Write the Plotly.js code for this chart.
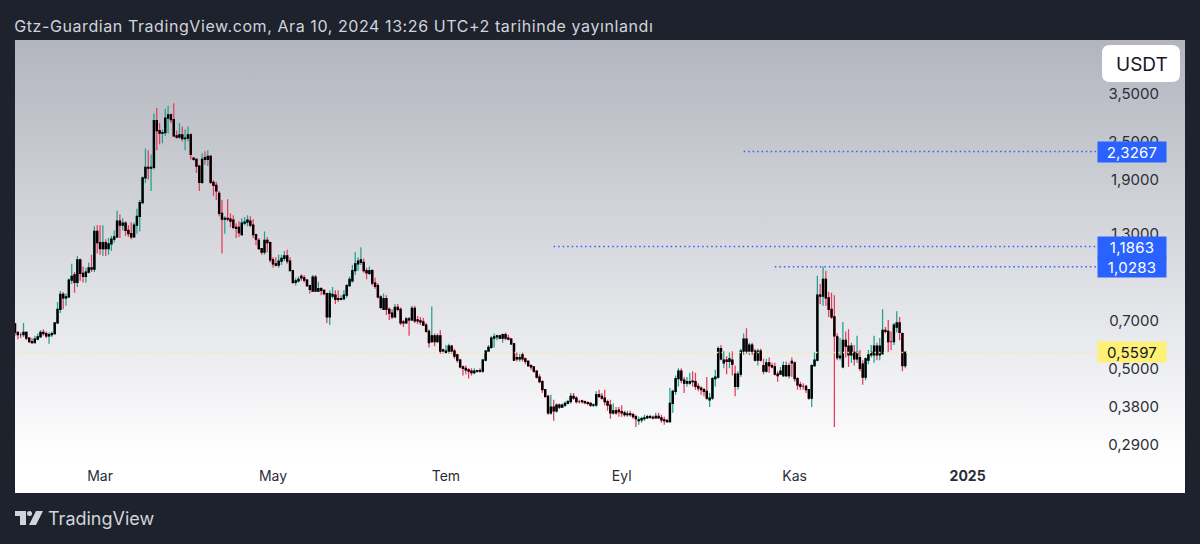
<!DOCTYPE html>
<html><head><meta charset="utf-8">
<script src="https://cdn.plot.ly/plotly-3.0.1.min.js"></script>
<style>
html,body{margin:0;padding:0;background:#1e222d;width:1200px;height:544px;overflow:hidden}
#panel{position:absolute;left:15px;top:40px;width:1170px;height:453px;background:linear-gradient(#b2b5be 0%,#e4e5e9 60%,#ffffff 93%)}
#chart{position:absolute;left:0;top:0;width:1200px;height:544px}
g.annotation[data-index="5"] text{letter-spacing:.58px}
g.annotation[data-index="0"] text,g.annotation[data-index="1"] text,g.annotation[data-index="2"] text,g.annotation[data-index="3"] text{letter-spacing:.2px}
</style></head><body>
<div id="panel"></div><div id="chart"></div>
<script>
const opens = [
.685,.645,.635,.635,.645,.62,.605,.60,.615,.625,
.645,.64,.63,.635,.64,.69,.76,.845,.825,.83,
.935,.97,.92,1.08,.98,.96,.99,1.02,1.01,1.32,
1.22,1.17,1.22,1.17,1.21,1.25,1.27,1.42,1.38,1.40,
1.33,1.30,1.27,1.38,1.47,1.62,1.93,2.08,2.07,2.08,
2.90,2.70,2.65,2.66,2.95,3.02,2.92,2.60,2.58,2.62,
2.55,2.56,2.62,2.22,2.20,2.10,1.87,2.23,2.20,2.25,
1.87,1.83,1.73,1.50,1.44,1.45,1.44,1.43,1.36,1.36,
1.29,1.40,1.41,1.42,1.38,1.29,1.24,1.17,1.14,1.24,
1.22,1.08,1.05,1.04,1.07,1.09,1.11,1.07,1.00,.92,
.93,.96,.95,.935,.90,.865,.955,.865,.88,.87,
.85,.72,.835,.84,.82,.815,.82,.84,.90,.93,
1.00,1.05,1.06,1.06,1.00,.98,1.00,.915,.90,.83,
.76,.82,.76,.74,.72,.77,.76,.695,.69,.71,
.705,.765,.705,.70,.695,.68,.65,.605,.63,.605,
.63,.57,.56,.565,.585,.565,.55,.53,.505,.50,
.495,.49,.485,.49,.492,.49,.53,.565,.58,.62,
.625,.63,.62,.635,.62,.615,.595,.54,.535,.55,
.535,.525,.51,.505,.49,.47,.455,.43,.41,.365,
.38,.37,.385,.38,.385,.39,.395,.41,.405,.395,
.397,.395,.392,.39,.385,.386,.415,.41,.405,.395,
.385,.365,.37,.372,.368,.365,.36,.362,.36,.355,
.345,.347,.35,.352,.355,.353,.352,.356,.352,.347,
.345,.343,.39,.425,.465,.49,.46,.45,.45,.457,
.455,.44,.435,.43,.425,.40,.405,.465,.47,.575,
.52,.53,.525,.53,.48,.44,.48,.565,.615,.565,
.59,.565,.53,.565,.51,.49,.52,.51,.505,.48,
.48,.475,.51,.475,.525,.52,.465,.445,.44,.44,
.43,.405,.51,.53,.84,.835,.94,.825,.76,.72,
.625,.54,.505,.61,.585,.55,.56,.535,.54,
.515,.47,.53,.55,.55,.585,.55,.555,.655,.65,
.605,.605,.67,.69,.64,.51];
const highs = [
.69,.645,.645,.69,.65,.625,.62,.63,.64,.655,
.66,.65,.645,.65,.695,.80,.865,.86,.85,.945,
1.05,.99,1.11,1.09,1.03,1.02,1.06,1.12,1.37,1.38,
1.38,1.38,1.25,1.26,1.28,1.33,1.53,1.49,1.45,1.42,
1.38,1.41,1.41,1.55,1.65,1.95,2.38,2.35,2.28,3.05,
3.17,2.85,2.72,3.15,3.22,3.05,3.28,2.70,2.85,2.78,
2.72,2.78,2.65,2.23,2.22,2.12,2.30,2.33,2.35,2.27,
1.90,1.88,1.76,1.65,1.47,1.66,1.50,1.48,1.40,1.42,
1.45,1.46,1.48,1.47,1.44,1.30,1.26,1.17,1.32,1.27,
1.23,1.10,1.10,1.12,1.12,1.15,1.16,1.10,1.00,.95,
.96,.975,.97,.94,.905,.97,.97,.925,.89,.875,
.855,.87,.89,.87,.87,.84,.87,.91,.96,1.04,
1.14,1.10,1.18,1.09,1.02,1.03,1.01,.95,.915,.84,
.85,.84,.77,.76,.79,.79,.77,.705,.72,.72,
.78,.78,.725,.72,.715,.69,.66,.775,.64,.64,
.655,.575,.59,.595,.59,.575,.555,.535,.51,.51,
.50,.50,.50,.495,.50,.535,.57,.59,.63,.64,
.635,.635,.64,.645,.635,.62,.60,.56,.555,.56,
.54,.53,.515,.505,.49,.48,.46,.43,.415,.415,
.40,.39,.39,.39,.395,.40,.42,.42,.41,.40,
.40,.398,.395,.393,.39,.425,.43,.42,.43,.40,
.40,.39,.38,.38,.385,.37,.37,.37,.365,.36,
.355,.355,.36,.36,.36,.358,.365,.365,.36,.355,
.35,.435,.43,.475,.50,.50,.47,.47,.485,.49,
.485,.45,.44,.435,.47,.42,.47,.495,.585,.59,
.565,.545,.56,.565,.51,.49,.575,.64,.665,.60,
.60,.575,.575,.575,.535,.535,.54,.52,.52,.49,
.505,.525,.525,.52,.54,.525,.47,.455,.45,.445,
.43,.515,.56,.965,.91,1.03,1.00,.86,.855,.84,
.64,.62,.695,.65,.66,.60,.59,.63,.57,
.53,.54,.57,.59,.63,.60,.62,.76,.67,.705,
.65,.69,.75,.72,.645,.565];
const lows = [
.63,.615,.62,.625,.61,.60,.595,.60,.61,.625,
.63,.62,.595,.625,.635,.685,.74,.76,.78,.825,
.91,.855,.89,.93,.92,.92,.98,.99,.99,1.13,
1.12,1.11,1.11,1.12,1.15,1.22,1.26,1.26,1.33,1.28,
1.27,1.25,1.27,1.30,1.32,1.60,1.86,1.91,1.76,2.05,
2.35,2.45,2.47,2.60,2.65,2.85,2.58,2.55,2.55,2.50,
2.35,2.50,2.20,2.18,2.00,1.76,1.85,2.12,2.10,1.85,
1.70,1.65,1.47,1.13,1.30,1.42,1.36,1.34,1.26,1.27,
1.28,1.38,1.37,1.36,1.26,1.20,1.16,1.12,1.12,1.14,
1.06,1.02,1.03,1.02,1.04,1.07,1.05,1.00,.91,.90,
.92,.93,.92,.89,.85,.86,.86,.865,.84,.84,
.69,.68,.82,.79,.80,.81,.81,.825,.89,.92,
.97,1.00,1.04,.985,.94,.97,.90,.88,.82,.76,
.76,.73,.705,.71,.72,.75,.68,.67,.69,.63,
.70,.69,.685,.68,.68,.645,.58,.60,.585,.60,
.555,.555,.555,.555,.555,.535,.52,.50,.475,.48,
.465,.475,.48,.485,.485,.485,.525,.56,.575,.58,
.61,.615,.60,.61,.61,.59,.53,.525,.525,.525,
.515,.505,.495,.485,.465,.45,.42,.405,.36,.36,
.345,.365,.375,.378,.38,.388,.39,.40,.39,.39,
.39,.388,.385,.38,.38,.38,.405,.40,.385,.37,
.35,.36,.36,.355,.355,.355,.355,.355,.35,.33,
.335,.34,.345,.35,.35,.348,.35,.35,.34,.335,
.34,.34,.365,.415,.44,.45,.42,.44,.445,.44,
.43,.425,.415,.41,.40,.38,.40,.44,.465,.53,
.50,.48,.50,.475,.41,.43,.47,.55,.555,.55,
.55,.525,.51,.525,.48,.485,.485,.50,.475,.455,
.48,.47,.47,.465,.47,.455,.43,.43,.43,.42,
.40,.38,.505,.525,.79,.78,.78,.72,.71,.33,
.53,.53,.50,.54,.505,.52,.51,.52,.49,
.445,.46,.515,.54,.52,.53,.53,.55,.64,.56,
.57,.59,.645,.61,.49,.50];
const closes = [
.645,.635,.635,.645,.62,.605,.60,.615,.625,.645,
.64,.63,.635,.64,.69,.76,.845,.825,.83,.935,
.96,.92,1.08,.98,.96,.99,1.02,1.01,1.32,1.22,
1.17,1.22,1.17,1.21,1.25,1.27,1.42,1.38,1.40,1.33,
1.30,1.27,1.38,1.47,1.62,1.93,2.08,2.07,2.08,2.90,
2.70,2.65,2.66,2.95,3.02,2.92,2.60,2.58,2.62,2.55,
2.56,2.62,2.28,2.20,2.10,1.87,2.20,2.20,2.25,1.87,
1.83,1.76,1.50,1.44,1.45,1.44,1.42,1.36,1.35,1.31,
1.40,1.41,1.43,1.38,1.29,1.25,1.17,1.14,1.24,1.22,
1.08,1.05,1.04,1.07,1.09,1.11,1.07,1.00,.92,.93,
.94,.95,.935,.90,.875,.955,.865,.88,.87,.85,
.72,.85,.845,.815,.815,.82,.84,.90,.94,1.00,
1.05,1.07,1.08,1.00,.985,1.00,.915,.895,.83,.77,
.82,.76,.74,.72,.77,.76,.69,.69,.71,.705,
.765,.70,.70,.695,.68,.65,.60,.63,.605,.63,
.565,.565,.565,.585,.565,.545,.53,.505,.50,.495,
.49,.485,.49,.492,.49,.53,.565,.58,.62,.625,
.63,.62,.635,.62,.615,.595,.53,.535,.54,.535,
.525,.51,.505,.49,.47,.455,.43,.41,.365,.38,
.37,.385,.38,.385,.39,.395,.41,.405,.395,.395,
.395,.392,.39,.385,.386,.415,.41,.405,.395,.385,
.365,.37,.365,.368,.365,.36,.362,.36,.355,.35,
.347,.35,.352,.355,.353,.352,.356,.352,.347,.345,
.343,.39,.425,.465,.49,.46,.45,.455,.455,.455,
.44,.435,.43,.425,.405,.405,.465,.47,.575,.535,
.53,.525,.535,.515,.44,.48,.565,.615,.565,.59,
.565,.53,.565,.53,.49,.52,.51,.505,.48,.475,
.49,.51,.475,.51,.52,.465,.445,.44,.44,.43,
.405,.51,.53,.84,.835,.94,.825,.76,.72,.63,
.54,.545,.61,.585,.55,.585,.535,.56,.50,
.47,.535,.55,.56,.585,.55,.585,.655,.65,.605,
.605,.68,.69,.645,.51,.5597];
const tickLabelsX = ['Mar','May','Tem','Eyl','Kas','<b>2025</b>'];
const tickDatesX = ['2024-03-01','2024-05-01','2024-07-01','2024-09-01','2024-11-01','2025-01-01'];
const priceTicks = [3.5,2.5,1.9,1.3,0.7,0.5,0.38,0.29];
const priceTickLabels = ['3,5000','2,5000','1,9000','1,3000','0,7000','0,5000','0,3800','0,2900'];
const levelValues = [2.3267,1.1863,1.0283];
const levelLabels = ['2,3267','1,1863','1,0283'];
const levelStarts = ['2024-10-14','2024-08-08','2024-10-25'];
const lastPrice = 0.5597;
const lastPriceLabel = '0,5597';
const axisEnd = '2025-03-18 16:00';
const chartStart = '2024-01-31';
const tagEnd = '2025-03-04';

const dates = opens.map((_,i)=>new Date(Date.UTC(2024,0,31+i)).toISOString().slice(0,10));
const UP='#22a08f', DOWN='#e63b5a', FONT='Inter, "Noto Sans", sans-serif';
const px=v=>(v-15)/1170, py=v=>(493-v)/453;

const wicks={type:'candlestick',x:dates,open:opens,high:highs,low:lows,close:closes,
  increasing:{line:{color:UP,width:1.25},fillcolor:UP},decreasing:{line:{color:DOWN,width:1.25},fillcolor:DOWN},
  whiskerwidth:0,hoverinfo:'skip',showlegend:false};
const bodies={type:'candlestick',x:dates,open:opens,close:closes,
  high:opens.map((o,i)=>Math.max(o,closes[i])),low:opens.map((o,i)=>Math.min(o,closes[i])),
  increasing:{line:{color:'#000',width:1.25},fillcolor:'#000'},decreasing:{line:{color:'#000',width:1.25},fillcolor:'#000'},
  whiskerwidth:0,hoverinfo:'skip',showlegend:false};
const levels=levelValues.map((v,i)=>({type:'scatter',mode:'lines',x:[levelStarts[i],tagEnd],y:[v,v],
  line:{color:'#2962ff',width:1.5,dash:'1.5px 3px'},hoverinfo:'skip',showlegend:false}));
const lastLine={type:'scatter',mode:'lines',x:[chartStart,tagEnd],y:[lastPrice,lastPrice],
  line:{color:'#f5e88e',width:1.5,dash:'1.5px 3px'},hoverinfo:'skip',showlegend:false};

function rr(x0,y0,x1,y1,r){
  const X=px, Y=py;
  return `M${X(x0+r)},${Y(y0)} L${X(x1-r)},${Y(y0)} Q${X(x1)},${Y(y0)} ${X(x1)},${Y(y0+r)} L${X(x1)},${Y(y1-r)} Q${X(x1)},${Y(y1)} ${X(x1-r)},${Y(y1)} L${X(x0+r)},${Y(y1)} Q${X(x0)},${Y(y1)} ${X(x0)},${Y(y1-r)} L${X(x0)},${Y(y0+r)} Q${X(x0)},${Y(y0)} ${X(x0+r)},${Y(y0)} Z`;
}
const poly=pts=>'M'+pts.map(p=>px(p[0])+','+py(p[1])).join(' L')+' Z';
const paperShape=(path,fill)=>({type:'path',xref:'paper',yref:'paper',path,fillcolor:fill,line:{width:0},layer:'above'});
const shapes=[
  paperShape(rr(1102,45,1180,82,8),'#ffffff'),
  paperShape(poly([[15,511],[26,511],[26,525],[20,525],[20,516],[15,516]]),'#d1d4dc'),
  {type:'circle',xref:'paper',yref:'paper',x0:px(27),x1:px(32),y0:py(516),y1:py(511),fillcolor:'#d1d4dc',line:{width:0},layer:'above'},
  paperShape(poly([[36,511],[43,511],[36,525],[29,525]]),'#d1d4dc')
];
const tag=(v,text,bg,fc)=>({xref:'paper',yref:'y',x:px(1132),y:Math.log10(v),text,showarrow:false,
  bgcolor:bg,width:68,height:20,borderpad:0,font:{family:FONT,size:15,color:fc},xanchor:'center',yanchor:'middle'});
const annotations=[
  ...levelValues.map((v,i)=>tag(v,levelLabels[i],'#2962ff','#ffffff')),
  tag(lastPrice,lastPriceLabel,'#fff176','#131722'),
  {xref:'paper',yref:'paper',x:px(1142),y:py(64),text:'USDT',showarrow:false,font:{family:FONT,size:19,color:'#131722'},xanchor:'center',yanchor:'middle'},
  {xref:'paper',yref:'paper',x:px(34),y:py(26),text:'Gtz-Guardian TradingView.com, Ara 10, 2024 13:26 UTC+2 tarihinde yayınlandı',showarrow:false,font:{family:FONT,size:16,color:'#d1d4dc'},xanchor:'left',yanchor:'middle'},
  {xref:'paper',yref:'paper',x:px(46),y:py(518),text:'TradingView',showarrow:false,font:{family:FONT,size:18,color:'#d1d4dc'},xanchor:'left',yanchor:'middle'}
];
const layout={width:1200,height:544,margin:{l:15,r:15,t:40,b:51,pad:0},boxgap:0.45,
  paper_bgcolor:'rgba(0,0,0,0)',plot_bgcolor:'rgba(0,0,0,0)',showlegend:false,
  xaxis:{type:'date',range:[chartStart,axisEnd],rangeslider:{visible:false},showgrid:false,zeroline:false,showline:false,
    tickmode:'array',tickvals:tickDatesX,ticktext:tickLabelsX,ticklabelposition:'inside',ticks:'inside',ticklen:9,tickcolor:'rgba(0,0,0,0)',
    tickfont:{family:FONT,size:14,color:'#2a2e39'}},
  yaxis:{type:'log',range:[-0.6849,0.7104],anchor:'free',position:px(1159),side:'left',showgrid:false,zeroline:false,showline:false,
    tickmode:'array',tickvals:priceTicks,ticktext:priceTickLabels,ticks:'',tickfont:{family:FONT,size:15,color:'#2a2e39'}},
  shapes,annotations};
Plotly.newPlot('chart',[lastLine,...levels,wicks,bodies],layout,{displayModeBar:false,staticPlot:true});
</script></body></html>
